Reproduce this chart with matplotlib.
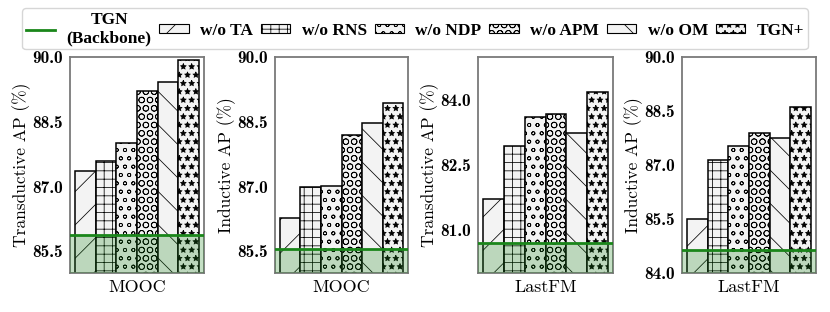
import numpy as np
import matplotlib
matplotlib.use("Agg")
import matplotlib.pyplot as plt
from matplotlib.patches import Patch
from matplotlib.lines import Line2D

plt.rcParams['axes.formatter.use_mathtext'] = True
plt.rcParams['hatch.linewidth'] = 0.55

# data
datasets = ["MOOC", "MOOC", "LastFM", "LastFM"]
ylabels = ["Transductive AP (%)", "Inductive AP (%)", "Transductive AP (%)", "Inductive AP (%)"]
tgn = [85.88, 85.55, 80.70, 84.63]
wo_ta = [87.35, 86.28, 81.71, 85.50]
wo_rns = [87.60, 87.00, 82.93, 87.15]
wo_ndp = [88.00, 87.02, 83.60, 87.53]
wo_apm = [89.21, 88.19, 83.67, 87.89]
wo_om = [89.41, 88.48, 83.25, 87.76]
tgn_plus = [89.92, 88.93, 84.18, 88.60]
variant_names = ["w/o TA", "w/o RNS", "w/o NDP", "w/o APM", "w/o OM", "TGN+"]
ylims = [(85.0, 90.0), (85.0, 90.0), (80.0, 85.0), (84.0, 90.0)]
yticks = [[85.5, 87.0, 88.5, 90.0], [85.5, 87.0, 88.5, 90.0],
          [81.0, 82.5, 84.0], [84.0, 85.5, 87.0, 88.5, 90.0]]

hatches = ['/', '++', 'oo', 'OO', '\\', '**']
BAR_COLOR = '#f3f3f3'
GREEN = '#1a861a'

W, H = 830, 312
fig = plt.figure(figsize=(W / 100, H / 100), dpi=100)

# axes pixel boxes: (left, right)
boxes = [(70, 204), (275, 408), (478, 613), (682, 816)]
top, bottom = 57, 273

series = [wo_ta, wo_rns, wo_ndp, wo_apm, wo_om, tgn_plus]

for i, (l, r) in enumerate(boxes):
    ax = fig.add_axes([l / W, (H - bottom) / H, (r - l) / W, (bottom - top) / H])
    x = np.arange(6)
    vals = [s[i] for s in series]
    for j in range(6):
        ax.bar(x[j], vals[j], width=1.0, bottom=0, color=BAR_COLOR,
               edgecolor='black', linewidth=1.1, hatch=hatches[j], zorder=2)
    ax.axhspan(ylims[i][0], tgn[i], color=GREEN, alpha=0.25, lw=0, zorder=3)
    ax.axhline(tgn[i], color=GREEN, lw=2, zorder=4)
    ax.set_xlim(-0.74, 5.74)
    ax.set_ylim(*ylims[i])
    ax.set_yticks(yticks[i])
    ax.set_yticklabels([f"{t:.1f}" for t in yticks[i]], family='cmb10', fontsize=12.5)
    ax.set_xticks([])
    ax.set_xlabel(datasets[i], family='cmr10', fontsize=13, labelpad=5)
    ax.set_ylabel(ylabels[i], family='cmr10', fontsize=12.5, labelpad=1)
    ax.tick_params(axis='y', length=0, pad=5)
    for sp in ax.spines.values():
        sp.set_color('#7a7a7a')
        sp.set_linewidth(1.3)

handles = [Line2D([0], [0], color=GREEN, lw=2)]
labels = ["TGN\n(Backbone)"]
for j in range(6):
    handles.append(Patch(facecolor=BAR_COLOR, edgecolor='black', linewidth=0.8, hatch=hatches[j]))
    labels.append(variant_names[j])

leg = fig.legend(handles, labels, loc='upper center', bbox_to_anchor=(0.5, 0.985), ncol=7,
                 prop={'family': 'Liberation Serif', 'weight': 'bold', 'size': 12.5},
                 frameon=True, fancybox=True, edgecolor='#cccccc', handlelength=1.7,
                 handleheight=0.4, handletextpad=0.65, columnspacing=0.45,
                 borderpad=0.2, borderaxespad=0.2)
for t in leg.get_texts():
    t.set_multialignment('center')

fig.savefig("out.png", dpi=100)
